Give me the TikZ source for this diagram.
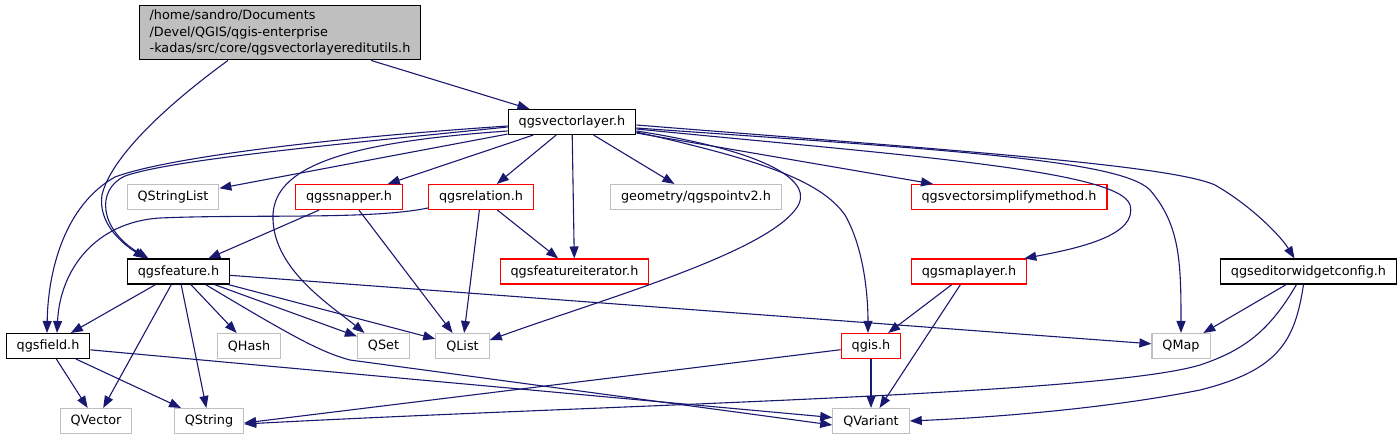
\documentclass[tikz,border=0pt]{standalone}
\usepackage{fontspec}
\setmainfont{DejaVu Sans}
\usetikzlibrary{arrows.meta}
\definecolor{edgeblue}{HTML}{191970}
\definecolor{boxgray}{HTML}{BFBFBF}

\begin{document}
\begin{tikzpicture}[x=1pt, y=-1pt, font=\fontsize{12.8}{16.6}\selectfont,
                    every node/.style={text=black}]
  \useasboundingbox (0,0) rectangle (1400,440);
  \tikzset{file/.style={draw, fill=white, line width=1.1pt, inner xsep=10.5pt,
            inner ysep=4.6pt, minimum height=25pt},
           known/.style={file, draw=black},
           broken/.style={file, draw=red},
           sys/.style={file, draw=boxgray},
           dep/.style={draw=edgeblue, line width=1.1pt,
            -{Triangle[length=12pt, width=9pt]}}}

  % top row: the file itself and the layer header
  \node[known, fill=boxgray, align=left] (root) at (280,32.5)
    {/home/sandro/Documents\\/Devel/QGIS/qgis-enterprise\\-kadas/src/core/qgsvectorlayereditutils.h};
  \node[known] (vlayer) at (572,122) {qgsvectorlayer.h};

  \node[sys] (strlist) at (173,197) {QStringList};
  \node[broken] (snapper) at (349,197) {qgssnapper.h};
  \node[broken] (relation) at (481,197) {qgsrelation.h};
  \node[sys] (pointv2) at (696,197) {geometry/qgspointv2.h};
  \node[broken] (simplify) at (1009,197) {qgsvectorsimplifymethod.h};

  \node[known] (feature) at (178.5,271.5) {qgsfeature.h};
  \node[broken] (featiter) at (574.5,271.5) {qgsfeatureiterator.h};
  \node[broken] (maplayer) at (969,271.5) {qgsmaplayer.h};
  \node[known] (edwidget) at (1308.5,271.5) {qgseditorwidgetconfig.h};

  \node[known] (field) at (48,346) {qgsfield.h};
  \node[sys] (qhash) at (249,346) {QHash};
  \node[sys] (qset) at (383.5,346) {QSet};
  \node[sys] (qlist) at (462.5,346) {QList};
  \node[broken] (qgis) at (871,346) {qgis.h};
  \node[sys] (qmap) at (1181,346) {QMap};

  \node[sys] (qvector) at (96,421) {QVector};
  \node[sys] (qstring) at (209,421) {QString};
  \node[sys] (qvariant) at (871,421) {QVariant};

  \draw[dep] (root) -- (vlayer);
  \draw[dep] ([xshift=-52pt]root.south) .. controls (160,110) and (110,160) .. (102,195)
    .. controls (98,222) and (120,242) .. ([xshift=-33pt]feature.north);

  \draw[dep] (vlayer) -- (strlist);
  \draw[dep] (vlayer) -- (snapper);
  \draw[dep] (vlayer) -- (relation);
  \draw[dep] (vlayer) -- (pointv2);
  \draw[dep] (vlayer) -- (simplify);
  \draw[dep] (vlayer) -- (featiter);
  \draw[dep] ([yshift=-5pt]vlayer.west) .. controls (330,145) and (170,160) .. (125,176)
    .. controls (95,190) and (100,230) .. ([xshift=-30pt]feature.north);
  \draw[dep] ([yshift=-4pt]vlayer.west) .. controls (300,140) and (160,160) .. (115,177)
    .. controls (65,205) and (48,270) .. ([xshift=-1pt]field.north);
  \draw[dep] ([yshift=-9pt]vlayer.west) .. controls (350,142) and (270,165) .. (273,220)
    .. controls (275,270) and (330,305) .. ([xshift=-19pt]qset.north);
  \draw[dep] ([yshift=-9pt]vlayer.east) .. controls (760,150) and (820,180) .. (795,210)
    .. controls (760,255) and (600,300) .. ([yshift=6pt]qlist.east);
  \draw[dep] ([yshift=-10pt]vlayer.east) .. controls (760,160) and (820,180) .. (845,215)
    .. controls (865,250) and (868,300) .. ([xshift=-3pt]qgis.north);
  \draw[dep] ([yshift=-7pt]vlayer.east) .. controls (900,155) and (1120,170) .. (1130,205)
    .. controls (1138,235) and (1080,248) .. ([xshift=-3pt]maplayer.north east);
  \draw[dep] ([yshift=-6pt]vlayer.east) .. controls (950,150) and (1120,160) .. (1150,190)
    .. controls (1180,225) and (1181,262) .. (qmap.north);
  \draw[dep] ([yshift=-3pt]vlayer.east) .. controls (950,150) and (1170,165) .. (1215,185)
    .. controls (1250,205) and (1280,235) .. ([xshift=-14pt]edwidget.north);

  \draw[dep] (snapper) -- (feature);
  \draw[dep] (snapper) -- (qlist);
  \draw[dep] (relation) -- (qlist);
  \draw[dep] (relation) -- (featiter);
  \draw[dep] ([yshift=-11pt]relation.west) .. controls (370,220) and (250,214) .. (160,218)
    .. controls (95,222) and (60,270) .. ([xshift=9pt]field.north);

  \draw[dep] (feature) -- (field);
  \draw[dep] (feature) -- (qvector);
  \draw[dep] (feature) -- (qstring);
  \draw[dep] (feature) -- (qhash);
  \draw[dep] (feature) -- (qset);
  \draw[dep] (feature) -- (qlist);
  \draw[dep] (feature) -- (qmap);
  \draw[dep] ([xshift=27pt]feature.south) .. controls (290,335) and (320,352) .. (350,360)
    -- ([yshift=-4pt]qvariant.west);

  \draw[dep] (field) -- (qvector);
  \draw[dep] (field) -- (qstring);
  \draw[dep] (field) -- (qvariant);

  \draw[dep] (maplayer) -- (qgis);
  \draw[dep] (maplayer) -- (qvariant);
  \draw[dep] (qgis) -- (qvariant);
  \draw[dep] (qgis) -- ([yshift=-2pt]qstring.east);

  \draw[dep] (edwidget) -- (qmap);
  \draw[dep] ([xshift=-12pt]edwidget.south) .. controls (1270,330) and (1245,350) .. (1200,365)
    .. controls (1100,395) and (600,405) .. ([yshift=-3pt]qstring.east);
  \draw[dep] ([xshift=-5pt]edwidget.south) .. controls (1295,340) and (1280,370) .. (1200,390)
    .. controls (1100,410) and (980,418) .. (qvariant.east);
\end{tikzpicture}
\end{document}
